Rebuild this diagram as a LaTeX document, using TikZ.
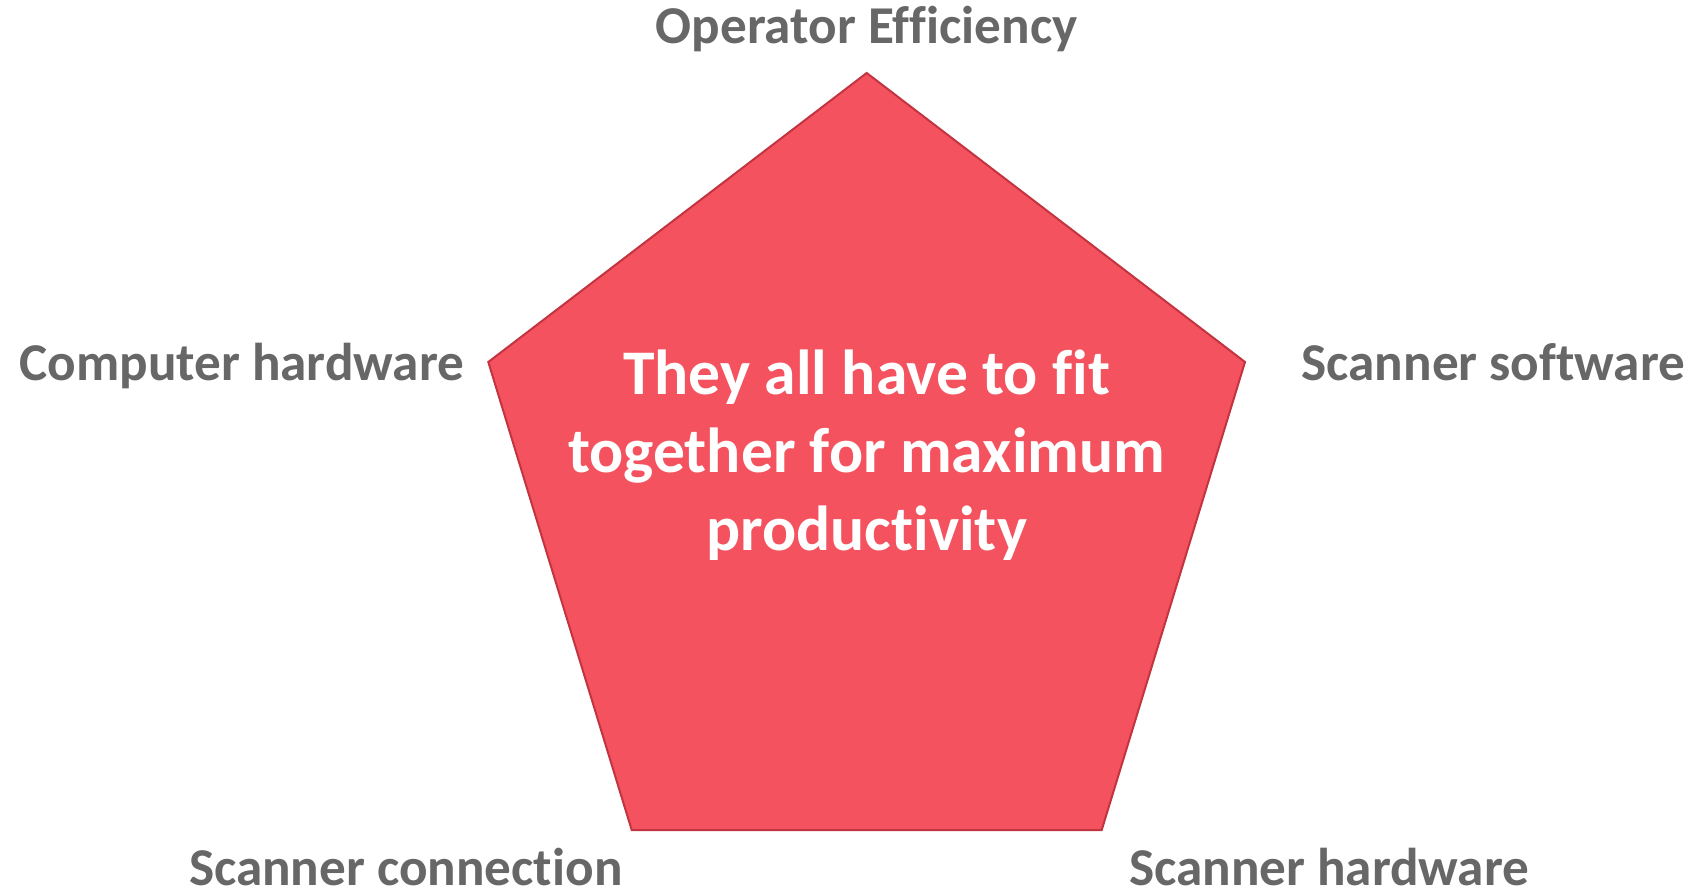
\documentclass[tikz,border=0pt]{standalone}
\usepackage{fontspec}
\setmainfont{Carlito}[Ligatures={NoCommon}]
\definecolor{pentfill}{HTML}{F4525E}
\definecolor{pentdraw}{HTML}{C23440}
\definecolor{labelgray}{HTML}{676767}
\begin{document}
\begin{tikzpicture}[x=1pt,y=-1pt,
  label/.style={inner sep=0pt,outer sep=0pt,text=labelgray,font=\bfseries\fontsize{53.2}{64}\selectfont},
  centertext/.style={inner sep=0pt,outer sep=0pt,text=white,align=center,font=\bfseries\fontsize{63.6}{78}\selectfont}]
\useasboundingbox (0,0) rectangle (1691,893);
\fill[white] (0,0) rectangle (1691,893);
\coordinate (top) at (866.7,73);
\coordinate (right) at (1245,362);
\coordinate (br) at (1101.7,830);
\coordinate (bl) at (631.7,830);
\coordinate (left) at (488.3,362);
\filldraw[fill=pentfill,draw=pentdraw,line width=2pt,line join=miter]
  (top) -- (right) -- (br) -- (bl) -- (left) -- cycle;
\node[centertext,anchor=base] (msg) at (866.7,550) {They all have to fit\\together for maximum\\productivity};
\node[label,anchor=base] (op) at (866.7,44) {Operator Efficiency};
\node[label,anchor=base west] (ch) at (19.5,380) {Computer hardware};
\node[label,anchor=base west] (ss) at (1301.5,380) {Scanner software};
\node[label,anchor=base west] (sc) at (189,885) {Scanner connection};
\node[label,anchor=base west] (sh) at (1129,885) {Scanner hardware};
\end{tikzpicture}
\end{document}
